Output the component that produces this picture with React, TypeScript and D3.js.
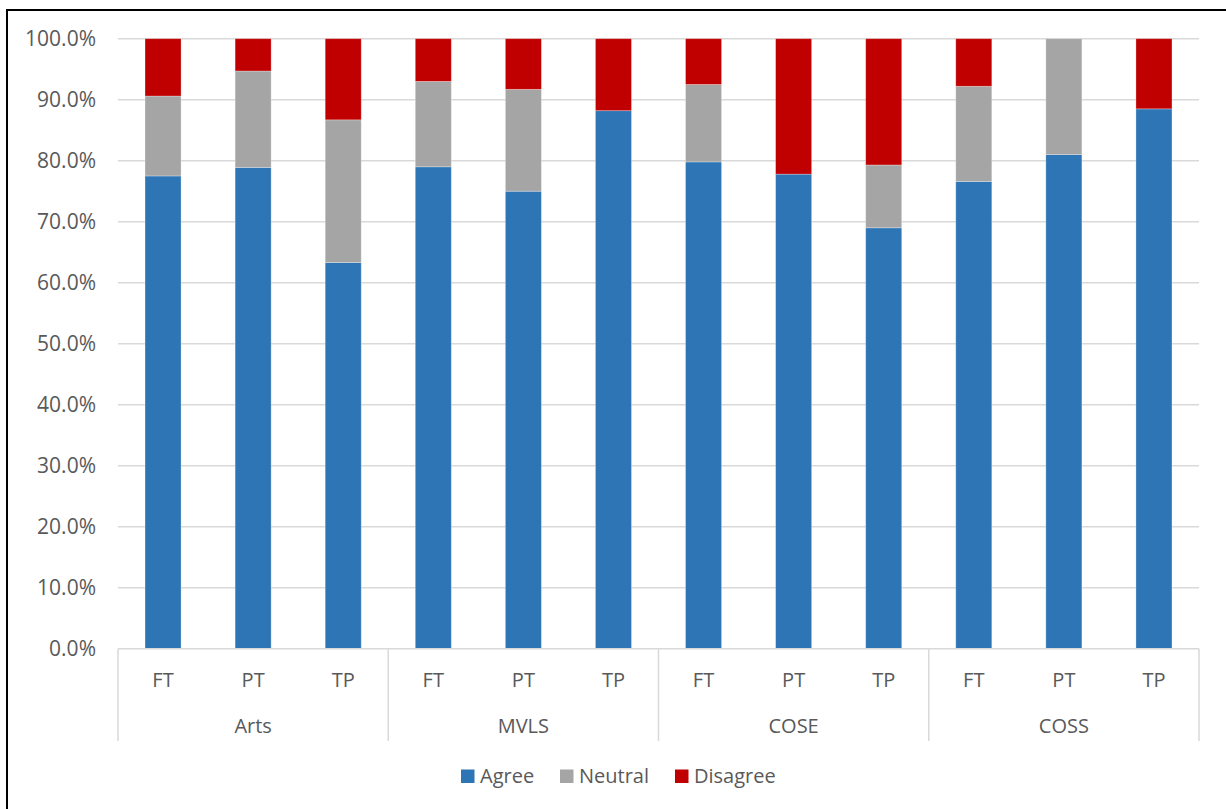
import React from "react";
import * as d3 from "d3";

const groups = ["Arts", "MVLS", "COSE", "COSS"];
const subs = ["FT", "PT", "TP"];
const seriesNames = ["Agree", "Neutral", "Disagree"];
const seriesColors = ["#2E75B6", "#A5A5A5", "#C00000"];
const agree = [77.5, 78.9, 63.3, 79.0, 75.0, 88.2, 79.8, 77.8, 69.0, 76.6, 81.0, 88.5];
const neutral = [13.1, 15.8, 23.4, 14.0, 16.7, 0, 12.7, 0, 10.3, 15.6, 19.0, 0];
const disagree = [9.4, 5.3, 13.3, 7.0, 8.3, 11.8, 7.5, 22.2, 20.7, 7.8, 0, 11.5];
const yTicks = [0, 10, 20, 30, 40, 50, 60, 70, 80, 90, 100];

const W = 1226, H = 809;
const left = 118, right = 1199, top = 38.7, bottom = 648.7;
const font = "'Open Sans', sans-serif";
const textColor = "#595959";

export default function App() {
  const keys = groups.flatMap((g) => subs.map((s) => g + "|" + s));
  const rows = keys.map((k, i) => ({ key: k, Agree: agree[i], Neutral: neutral[i], Disagree: disagree[i] }));
  const stack = d3.stack<any>().keys(seriesNames)(rows);
  const x = d3.scaleBand<string>().domain(keys).range([left, right]).paddingInner(0.6).paddingOuter(0.3);
  const xg = d3.scaleBand<string>().domain(groups).range([left, right]);
  const y = d3.scaleLinear().domain([0, 100]).range([bottom, top]);

  const legendItems = [
    { name: "Agree", x: 461 },
    { name: "Neutral", x: 560 },
    { name: "Disagree", x: 675 },
  ];

  return (
    <svg width={W} height={H} style={{ position: "absolute", left: 0, top: 0, background: "#fff" }}>
      <rect x={7} y={10} width={1300} height={900} fill="#fff" stroke="#000" strokeWidth={2} />
      {yTicks.map((t) => (
        <g key={t}>
          {t > 0 && (
            <line x1={left} x2={right} y1={y(t)} y2={y(t)} stroke="#d9d9d9" strokeWidth={1.5} />
          )}
          <text x={96} y={y(t)} dy="0.36em" textAnchor="end" fontFamily={font} fontSize={21} fill={textColor}>
            {t.toFixed(1) + "%"}
          </text>
        </g>
      ))}
      {stack.map((s, si) => (
        <g key={s.key} fill={seriesColors[si]}>
          {s.map((d: any, i: number) =>
            d[1] - d[0] > 0 ? (
              <rect
                key={i}
                x={x(keys[i])!}
                width={x.bandwidth()}
                y={y(d[1])}
                height={y(d[0]) - y(d[1])}
                stroke="rgba(255,255,255,0.35)"
                strokeWidth={0.8}
              />
            ) : null
          )}
        </g>
      ))}
      <line x1={left} x2={right} y1={bottom} y2={bottom} stroke="#d9d9d9" strokeWidth={1.5} />
      {[...groups.map((g) => xg(g)!), right].map((gx, i) => (
        <line key={i} x1={gx} x2={gx} y1={bottom} y2={741} stroke="#d9d9d9" strokeWidth={1.5} />
      ))}
      {keys.map((k) => (
        <text key={k} x={x(k)! + x.bandwidth() / 2} y={680} dy="0.36em" textAnchor="middle" fontFamily={font} fontSize={20} fill={textColor}>
          {k.split("|")[1]}
        </text>
      ))}
      {groups.map((g) => (
        <text key={g} x={xg(g)! + xg.bandwidth() / 2} y={726} dy="0.36em" textAnchor="middle" fontFamily={font} fontSize={20} fill={textColor}>
          {g}
        </text>
      ))}
      {legendItems.map((l, i) => (
        <g key={l.name}>
          <rect x={l.x} y={769.5} width={13.5} height={13.5} fill={seriesColors[i]} />
          <text x={l.x + 19} y={776} dy="0.36em" fontFamily={font} fontSize={20} fill={textColor}>
            {l.name}
          </text>
        </g>
      ))}
    </svg>
  );
}
